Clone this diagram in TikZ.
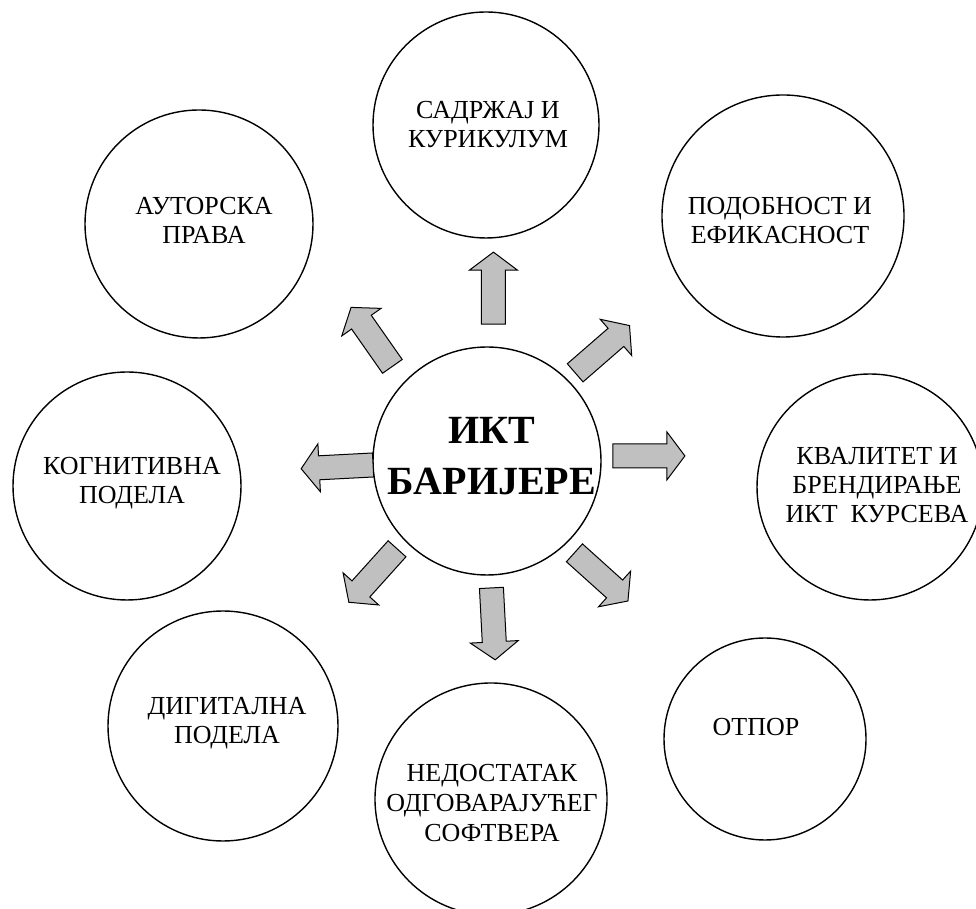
\documentclass[tikz,border=0pt]{standalone}
\usepackage{fontspec}
\setmainfont{Liberation Serif}
\definecolor{arrowgray}{HTML}{C0C0C0}
\begin{document}
\begin{tikzpicture}[x=1pt,y=1pt,
  ring/.style={circle, draw, line width=1.4pt, inner sep=0pt},
  lbl/.style={align=center, font=\fontsize{26}{29}\selectfont, inner sep=0pt},
  hub/.style={align=center, font=\fontsize{40}{51}\selectfont\bfseries, inner sep=0pt},
  blockarrow/.pic={
    \draw[line width=1pt, fill=arrowgray, line join=miter]
      (0,-12) -- (54,-12) -- (54,-24) -- (72,0) -- (54,24) -- (54,12) -- (0,12) -- cycle;
  }
]
\useasboundingbox (0,0) rectangle (976,909);

% central circle
\node[ring, minimum size=228pt] (c) at (487,448) {};

% surrounding circles
\node[ring, minimum size=226pt] (s1) at (486,784) {};
\node[ring, minimum size=242pt] (s2) at (783,693) {};
\node[ring, minimum size=226pt] (s3) at (870,422) {};
\node[ring, minimum size=202pt] (s4) at (765,170) {};
\node[ring, minimum size=232pt] (s5) at (491,110) {};
\node[ring, minimum size=230pt] (s6) at (223,183) {};
\node[ring, minimum size=228pt] (s7) at (127,423) {};
\node[ring, minimum size=228pt] (s8) at (199,685) {};

% labels
\node[hub] (ct) at (492,453) {ИКТ\\БАРИЈЕРЕ};
\node[lbl] (t1) at (488,784.5) {САДРЖАЈ И\\КУРИКУЛУМ};
\node[lbl] (t2) at (780,688.5) {ПОДОБНОСТ И\\ЕФИКАСНОСТ};
\node[lbl] (t3) at (877,423.5) {КВАЛИТЕТ И\\БРЕНДИРАЊЕ\\ИКТ\ \ КУРСЕВА};
\node[lbl] (t4) at (756,181.5) {ОТПОР};
\node[lbl, font=\fontsize{26}{30}\selectfont] (t5) at (492,105.5) {НЕДОСТАТАК\\ОДГОВАРАЈУЋЕГ\\СОФТВЕРА};
\node[lbl] (t6) at (227,185.5) {ДИГИТАЛНА\\ПОДЕЛА};
\node[lbl] (t7) at (132,426) {КОГНИТИВНА\\ПОДЕЛА};
\node[lbl] (t8) at (204,689) {АУТОРСКА\\ПРАВА};

% block arrows radiating from the centre
\path (c.center) ++(87.3:137)  pic[rotate=90]  {blockarrow};
\path (c.center) ++(45:124.7)  pic[rotate=41]  {blockarrow};
\path (c.center) ++(2.3:126)   pic[rotate=0]   {blockarrow};
\path (c.center) ++(-46.4:126.8) pic[rotate=-42] {blockarrow};
\path (c.center) ++(-88:127)   pic[rotate=-87] {blockarrow};
\path (c.center) ++(224.3:125.7) pic[rotate=228] {blockarrow};
\path (c.center) ++(182:114)   pic[rotate=183] {blockarrow};
\path (c.center) ++(135:133.8) pic[rotate=125] {blockarrow};
\end{tikzpicture}
\end{document}
